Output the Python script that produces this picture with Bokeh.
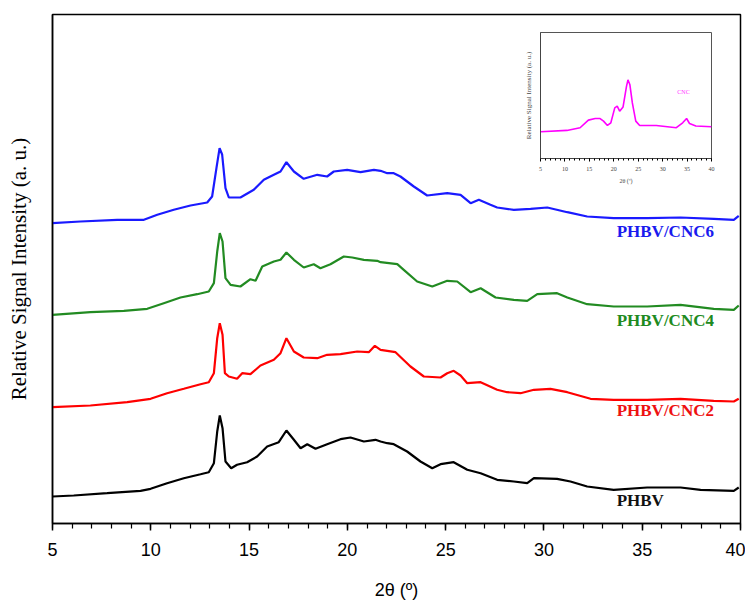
from bokeh.plotting import figure
from bokeh.models import FixedTicker, Range1d, Label
from bokeh.layouts import column
from bokeh.embed import file_html
from bokeh.resources import INLINE

# ---------------- data ----------------
phbv_x = [5.00, 6.08, 7.78, 9.48, 9.99, 10.83, 11.68, 12.53, 12.95, 13.21, 13.38, 13.51, 13.65, 13.80,
          14.09, 14.39, 14.90, 15.41, 15.92, 16.51, 16.90, 17.28, 17.62, 17.96, 18.38, 18.97, 19.65,
          20.16, 20.84, 21.43, 21.69, 22.03, 22.36, 23.04, 23.72, 24.32, 24.74, 25.41, 26.10, 26.78,
          27.62, 28.47, 29.15, 29.49, 30.67, 31.35, 32.20, 33.55, 35.25, 36.95, 37.97, 39.66, 39.91]
phbv_y = [27.0, 28.0, 30.3, 32.7, 34.7, 40.3, 45.3, 49.3, 51.3, 60.3, 92.0, 108.0, 95.3, 62.0,
          55.3, 58.7, 61.3, 67.0, 77.0, 81.3, 93.0, 83.7, 75.3, 79.3, 74.7, 79.3, 84.3,
          86.0, 82.0, 83.7, 82.0, 80.3, 79.3, 72.0, 62.0, 55.3, 59.3, 61.3, 53.7, 50.3,
          43.7, 42.0, 40.3, 45.3, 44.7, 42.0, 37.0, 33.7, 36.0, 36.0, 33.7, 32.7, 36.0]

cnc2_x = [5.00, 6.93, 8.80, 9.99, 10.83, 11.68, 12.53, 12.95, 13.21, 13.38, 13.51, 13.65, 13.77, 13.97,
          14.39, 14.65, 15.07, 15.58, 16.26, 16.60, 16.90, 17.28, 17.78, 18.47, 18.97, 19.65, 20.50,
          21.09, 21.40, 21.69, 22.45, 23.21, 23.89, 24.74, 25.08, 25.41, 25.76, 26.10, 26.78, 27.62,
          28.13, 28.81, 29.49, 30.33, 31.19, 32.37, 33.55, 35.25, 36.95, 38.64, 39.66, 39.91]
cnc2_y = [116.3, 118.0, 121.3, 124.7, 130.3, 134.7, 139.3, 141.3, 150.3, 185.3, 200.3, 188.7, 150.3, 147.0,
          144.7, 150.3, 149.3, 158.0, 163.7, 170.3, 185.3, 172.0, 166.0, 165.3, 168.7, 169.3, 172.0,
          171.3, 177.7, 173.7, 171.3, 157.0, 147.0, 146.0, 150.3, 152.7, 148.0, 140.3, 141.3, 133.7,
          131.3, 130.3, 133.7, 134.7, 131.3, 124.7, 123.7, 123.7, 124.7, 122.7, 122.0, 124.7]

cnc4_x = [5.00, 6.93, 8.63, 9.82, 10.66, 11.51, 12.36, 12.95, 13.21, 13.38, 13.51, 13.65, 13.80, 14.06,
          14.56, 15.07, 15.33, 15.67, 16.26, 16.60, 16.90, 17.28, 17.78, 18.29, 18.63, 19.14, 19.82,
          20.25, 20.84, 21.52, 21.69, 22.54, 22.87, 23.55, 24.32, 25.08, 25.59, 26.27, 26.78, 27.54,
          28.47, 29.15, 29.66, 30.67, 31.19, 32.20, 33.55, 35.25, 36.95, 38.64, 39.66, 39.91]
cnc4_y = [208.7, 211.3, 212.7, 214.7, 220.3, 226.0, 229.3, 232.0, 240.3, 272.0, 290.3, 282.0, 245.3, 238.7,
          237.0, 244.3, 242.7, 257.0, 262.0, 263.7, 271.0, 263.7, 256.0, 259.3, 255.3, 259.3, 267.0,
          266.0, 263.7, 262.7, 261.3, 259.3, 253.7, 242.0, 237.0, 242.7, 242.0, 231.3, 235.3, 226.0,
          223.7, 222.7, 229.3, 230.3, 226.0, 219.3, 217.0, 217.0, 218.7, 214.7, 213.7, 218.0]

cnc6_x = [5.00, 6.42, 8.29, 9.65, 10.33, 11.17, 12.02, 12.87, 13.12, 13.34, 13.50, 13.63, 13.80, 13.97,
          14.56, 15.24, 15.75, 16.26, 16.60, 16.90, 17.28, 17.78, 18.47, 18.97, 19.31, 19.99, 20.67,
          21.35, 21.69, 22.03, 22.36, 22.70, 23.38, 24.06, 25.08, 25.76, 26.27, 26.69, 27.28, 27.62,
          28.47, 29.32, 30.17, 31.19, 32.20, 33.55, 35.25, 36.95, 38.64, 39.66, 39.91]
cnc6_y = [300.3, 302.0, 303.7, 303.7, 308.7, 313.7, 318.0, 321.0, 327.0, 355.3, 375.3, 369.0, 335.3, 326.0,
          326.0, 333.7, 343.7, 348.7, 352.0, 361.3, 352.0, 344.7, 348.7, 347.0, 352.0, 353.7, 351.3,
          353.7, 352.7, 350.3, 350.3, 347.0, 337.0, 328.0, 330.3, 328.7, 320.3, 323.7, 318.7, 316.0,
          313.7, 314.7, 316.0, 311.3, 307.0, 305.3, 305.3, 306.0, 304.7, 303.7, 307.7]

cnc_x = [5.0, 10.4, 13.1, 14.8, 16.2, 17.2, 17.9, 18.7, 19.4, 20.2, 20.7, 21.2, 21.9, 22.6, 22.9,
         23.3, 23.8, 24.5, 25.3, 28.7, 32.8, 34.1, 34.9, 35.5, 36.8, 40.0]
cnc_y = [27.0, 28.3, 31.0, 38.7, 40.3, 40.3, 37.7, 33.3, 36.0, 51.0, 52.7, 47.7, 52.0, 72.7, 79.3,
         74.3, 56.0, 37.7, 33.3, 33.3, 31.0, 36.0, 40.3, 35.3, 32.7, 32.0]

series_names = ["PHBV", "PHBV/CNC2", "PHBV/CNC4", "PHBV/CNC6"]
x_ticks = [5, 10, 15, 20, 25, 30, 35, 40]

BL = 52   # left border shared by both plots (the column aligns them)
BR = 5

# ---------------- main figure ----------------
p = figure(frame_width=688, frame_height=509,
           min_border_left=BL, min_border_right=BR, min_border_top=14, min_border_bottom=72,
           x_range=Range1d(5, 40), y_range=Range1d(0, 509),
           output_backend="svg", toolbar_location=None)
p.background_fill_color = "white"
p.border_fill_color = "white"
p.grid.visible = False
p.outline_line_color = "black"
p.outline_line_width = 1.5

xa = p.xaxis[0]
xa.ticker = FixedTicker(ticks=x_ticks, minor_ticks=list(range(5, 41)))
xa.axis_line_width = 1.5
xa.major_tick_line_width = 1.5
xa.minor_tick_line_width = 1.2
xa.major_tick_out = 7
xa.major_tick_in = 0
xa.minor_tick_out = 5
xa.minor_tick_in = 0
xa.major_label_text_font = "Liberation Sans"
xa.major_label_text_font_size = "18px"
xa.major_label_text_color = "black"
xa.major_label_standoff = 12
xa.axis_label = "2θ (º)"
xa.axis_label_text_font = "Liberation Sans"
xa.axis_label_text_font_size = "18px"
xa.axis_label_text_font_style = "normal"
xa.axis_label_text_color = "black"
xa.axis_label_standoff = 21

ya = p.yaxis[0]
ya.ticker = FixedTicker(ticks=[])
ya.major_label_text_font_size = "0px"
ya.major_tick_out = 0
ya.minor_tick_out = 0
ya.axis_line_width = 1.5
ya.axis_label = "Relative Signal Intensity (a. u.)"
ya.axis_label_text_font = "Liberation Serif"
ya.axis_label_text_font_size = "21px"
ya.axis_label_text_font_style = "normal"
ya.axis_label_text_color = "black"
ya.axis_label_standoff = 22

colors = ["#000000", "#ff0000", "#228b22", "#1a1aff"]
label_colors = ["#111111", "#ee1111", "#208a20", "#1a1aee"]
xs = [phbv_x, cnc2_x, cnc4_x, cnc6_x]
ys = [phbv_y, cnc2_y, cnc4_y, cnc6_y]
label_y = [23, 113, 203, 292]
for xv, yv, c, lc, name, ly in zip(xs, ys, colors, label_colors, series_names, label_y):
    p.line(xv, yv, line_color=c, line_width=2.2)
    p.add_layout(Label(x=33.7, y=ly, text=name, text_color=lc,
                       text_font="Liberation Serif", text_font_size="17px",
                       text_font_style="bold", text_baseline="middle", text_align="left"))

# ---------------- inset ----------------
ins = figure(width=BL + 171 + BR, height=3 + 126 + 30, sizing_mode="fixed",
             min_border_left=BL, min_border_right=BR, min_border_top=3, min_border_bottom=30,
             x_range=Range1d(5, 40), y_range=Range1d(0, 127),
             output_backend="svg", toolbar_location=None)
ins.styles = {"position": "absolute", "left": "488px", "top": "29px"}
ins.background_fill_color = "white"
ins.border_fill_color = "white"
ins.grid.visible = False
ins.outline_line_color = "#555555"
ins.outline_line_width = 1
ix = ins.xaxis[0]
ix.ticker = FixedTicker(ticks=x_ticks, minor_ticks=list(range(5, 41)))
ix.major_tick_out = 3
ix.major_tick_in = 0
ix.minor_tick_out = 2
ix.minor_tick_in = 0
ix.axis_line_color = "#444444"
ix.major_label_text_font = "Liberation Serif"
ix.major_label_text_font_size = "6px"
ix.major_label_standoff = 5
ix.axis_label = "2θ (º)"
ix.axis_label_text_font = "Liberation Serif"
ix.axis_label_text_font_size = "6px"
ix.axis_label_text_font_style = "normal"
ix.axis_label_standoff = 4
iy = ins.yaxis[0]
iy.ticker = FixedTicker(ticks=[])
iy.major_label_text_font_size = "0px"
iy.major_tick_out = 0
iy.minor_tick_out = 0
iy.axis_line_color = "#444444"
iy.axis_label = "Relative Signal Intensity (a. u.)"
iy.axis_label_text_font = "Liberation Serif"
iy.axis_label_text_font_size = "7px"
iy.axis_label_text_font_style = "normal"
iy.axis_label_standoff = 8
ins.line(cnc_x, cnc_y, line_color="#ff00ff", line_width=1.6)
ins.add_layout(Label(x=33.0, y=67, text="CNC", text_color="#ff33ff",
                     text_font="Liberation Serif", text_font_size="6px",
                     text_baseline="middle", text_align="left"))

layout = column(p, ins)
open("out.html", "w").write(file_html(layout, INLINE))
